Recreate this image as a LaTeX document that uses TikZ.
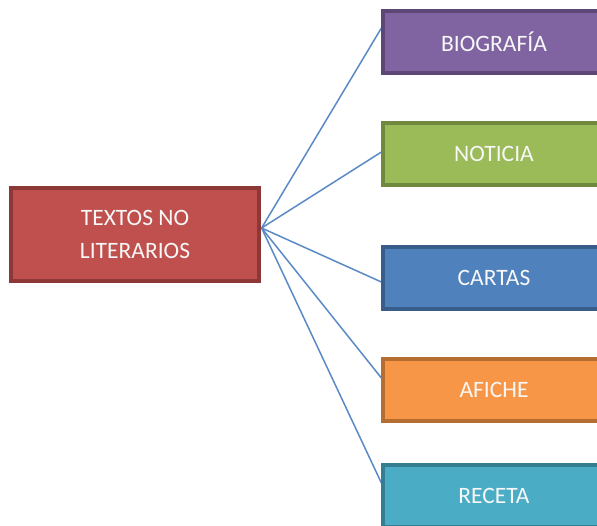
\documentclass[tikz,border=0pt]{standalone}
\usepackage{fontspec}
\setmainfont{Carlito}
\usetikzlibrary{calc,backgrounds}
\definecolor{redf}{HTML}{C0504D}\definecolor{redd}{HTML}{8C3836}
\definecolor{purf}{HTML}{8064A2}\definecolor{purd}{HTML}{5C4776}
\definecolor{grnf}{HTML}{9BBB59}\definecolor{grnd}{HTML}{71893F}
\definecolor{bluf}{HTML}{4F81BD}\definecolor{blud}{HTML}{385D8A}
\definecolor{orgf}{HTML}{F79646}\definecolor{orgd}{HTML}{B66D31}
\definecolor{tealf}{HTML}{4BACC6}\definecolor{teald}{HTML}{357D91}
\definecolor{conn}{HTML}{5A8AC6}
\tikzset{
  box/.style={rectangle, line width=3.2pt, text=white!94!gray, inner sep=0pt,
    font=\fontsize{23.5}{33}\selectfont, align=center},
  leaf/.style={box, minimum width=222pt, minimum height=62pt},
  link/.style={conn, line width=1.5pt}
}
\begin{document}
\begin{tikzpicture}[x=1pt,y=1pt]
\useasboundingbox (0,0) rectangle (597,-525);
\clip (0,0) rectangle (597,-525);
\node[box, fill=redf, draw=redd, minimum width=248pt, minimum height=93pt] (root) at (135,-234.5) {TEXTOS NO\\LITERARIOS};
\node[leaf, fill=purf, draw=purd] (bio) at (494,-42) {BIOGRAFÍA};
\node[leaf, fill=grnf, draw=grnd] (not) at (494,-154) {NOTICIA};
\node[leaf, fill=bluf, draw=blud] (car) at (494,-278) {CARTAS};
\node[leaf, fill=orgf, draw=orgd] (afi) at (494,-390) {AFICHE};
\node[leaf, fill=tealf, draw=teald] (rec) at (494,-496) {RECETA};
\coordinate (hub) at ($(root.east)+(1,6.5)$);
\begin{scope}[on background layer]
\draw[link] (hub) -- ($(bio.west)+(0,14)$);
\draw[link] (hub) -- ($(not.west)+(0,2)$);
\draw[link] (hub) -- ($(car.west)+(0,-4)$);
\draw[link] (hub) -- ($(afi.west)+(0,12)$);
\draw[link] (hub) -- ($(rec.west)+(0,13)$);
\end{scope}
\end{tikzpicture}
\end{document}
